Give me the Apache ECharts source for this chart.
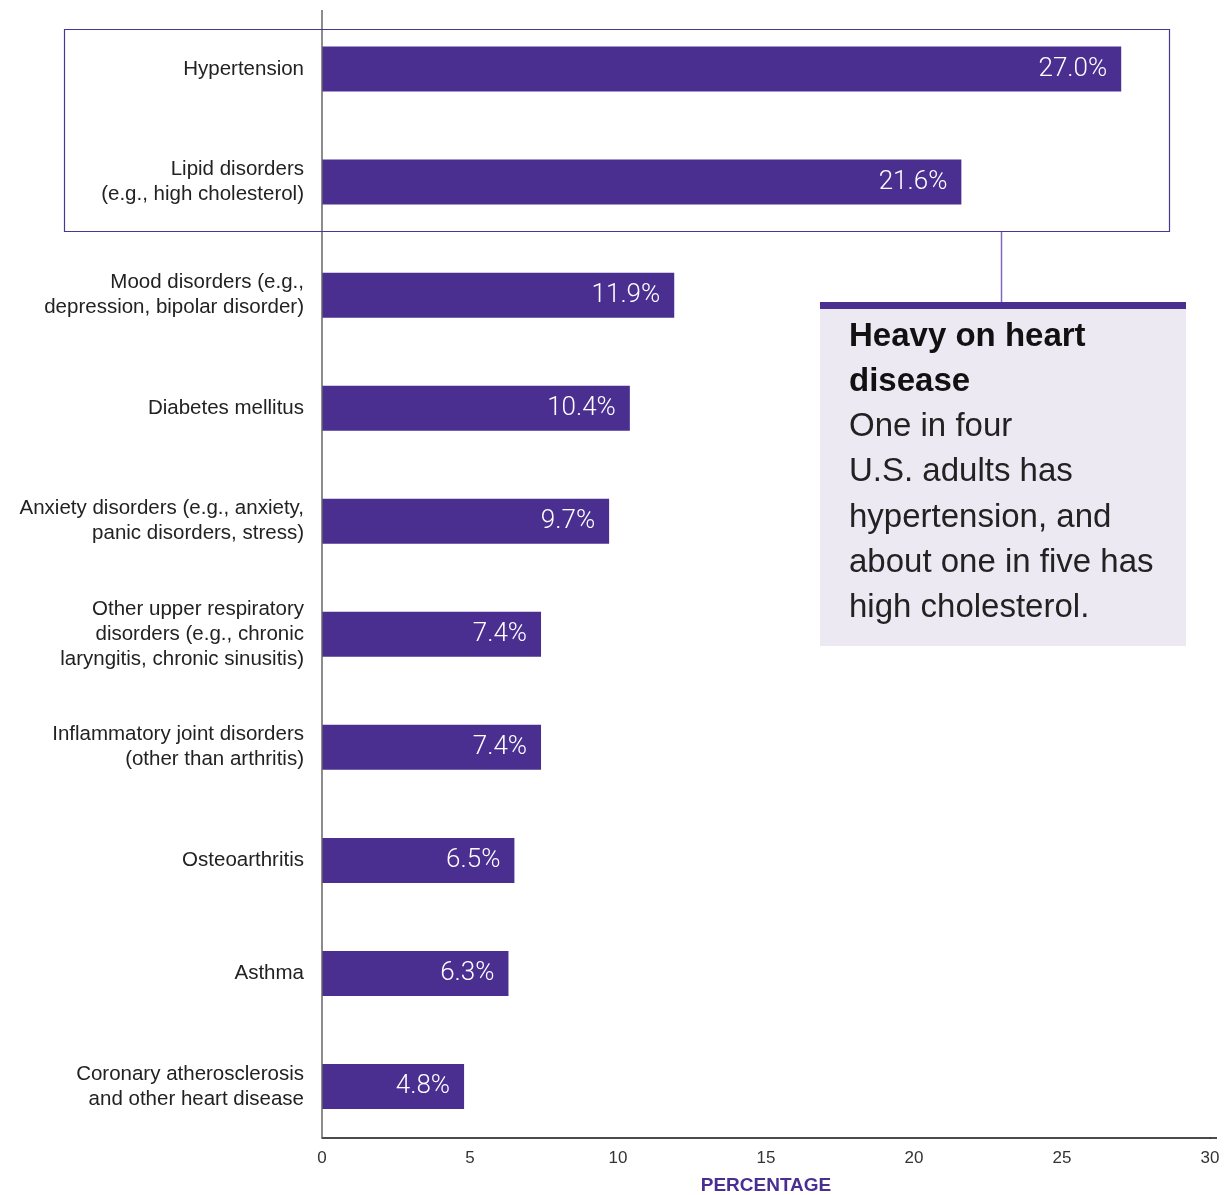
<!DOCTYPE html>
<html><head><meta charset="utf-8">
<script src="https://cdn.jsdelivr.net/npm/echarts@6/dist/echarts.min.js"></script>
<style>html,body{margin:0;padding:0;background:#fff}#c{width:1229px;height:1195px}</style>
</head><body><div id="c"></div>
<script>
const categories = [
  "Hypertension",
  "Lipid disorders\n(e.g., high cholesterol)",
  "Mood disorders (e.g.,\ndepression, bipolar disorder)",
  "Diabetes mellitus",
  "Anxiety disorders (e.g., anxiety,\npanic disorders, stress)",
  "Other upper respiratory\ndisorders (e.g., chronic\nlaryngitis, chronic sinusitis)",
  "Inflammatory joint disorders\n(other than arthritis)",
  "Osteoarthritis",
  "Asthma",
  "Coronary atherosclerosis\nand other heart disease"
];
const values = [27.0, 21.6, 11.9, 10.4, 9.7, 7.4, 7.4, 6.5, 6.3, 4.8];
const xTicks = [0, 5, 10, 15, 20, 25, 30];
const calloutTitle = ["Heavy on heart", "disease"];
const calloutBody = ["One in four", "U.S. adults has", "hypertension, and", "about one in five has", "high cholesterol."];

const purple = '#4A2F91';
const font = "'Liberation Sans', Arial, sans-serif";
const chart = echarts.init(document.getElementById('c'));
const textEls = [];
calloutTitle.forEach((t, i) => textEls.push({type:'text', left: 849, top: 320 + i*45.3,
  style:{text:t, font:"bold 33px 'Liberation Sans', Arial, sans-serif", fill:'#111'}}));
calloutBody.forEach((t, i) => textEls.push({type:'text', left: 849, top: 320 + (i+2)*45.3,
  style:{text:t, font:"33px 'Liberation Sans', Arial, sans-serif", fill:'#222'}}));
chart.setOption({
  animation:false,
  grid:{left:322, right:19, top:12.5, bottom:52, containLabel:false, outerBoundsMode:'none'},
  xAxis:{type:'value', min:0, max:30, interval:5, offset:-5,
    axisLine:{show:true, lineStyle:{color:'#111', width:1.5}},
    axisTick:{show:false}, splitLine:{show:false},
    axisLabel:{color:'#333', fontSize:17, fontFamily:font, margin:12,
      formatter: v => xTicks.includes(v) ? String(v) : ''},
    name:'PERCENTAGE', nameLocation:'middle', nameGap:38,
    nameTextStyle:{color:purple, fontWeight:'bold', fontSize:19, fontFamily:font}
  },
  yAxis:{type:'category', data:categories, inverse:true,
    axisLine:{show:false},
    axisTick:{show:false},
    axisLabel:{color:'#222', fontSize:20.5, fontFamily:font, margin:18, lineHeight:25, align:'right'}
  },
  series:[{type:'bar', data:values, barWidth:45, itemStyle:{color:purple},
    label:{show:true, position:'insideRight', distance:14, color:'#fff', fontSize:26,
      fontFamily:"Roboto, 'Liberation Sans', sans-serif", fontWeight:300,
      formatter: p => p.value.toFixed(1) + '%'}
  }],
  graphic:[
    {type:'line', shape:{x1:322, y1:10, x2:322, y2:1138}, style:{stroke:'#666', lineWidth:1.5}, z:9},
    {type:'rect', shape:{x:64.5, y:29.5, width:1105, height:202}, style:{fill:'none', stroke:'#4A3592', lineWidth:1.2}, z:10},
    {type:'line', shape:{x1:1001.5, y1:232, x2:1001.5, y2:303}, style:{stroke:'#8068BC', lineWidth:1.5}, z:10},
    {type:'rect', shape:{x:820, y:302, width:366, height:344}, style:{fill:'#ECE9F3'}, z:10},
    {type:'rect', shape:{x:820, y:302, width:366, height:7}, style:{fill:purple}, z:11},
    {type:'line', shape:{x1:1210, y1:1138, x2:1217, y2:1138}, style:{stroke:'#111', lineWidth:1.5}, z:10},
    ...textEls.map(e => Object.assign(e, {z:12}))
  ]
});
</script></body></html>
